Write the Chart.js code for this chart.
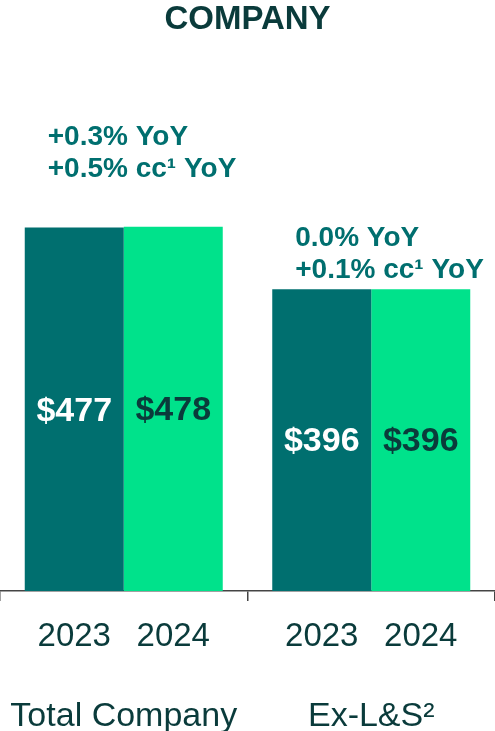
<!DOCTYPE html>
<html>
<head>
<meta charset="utf-8">
<script src="https://cdn.jsdelivr.net/npm/chart.js@4.4.1/dist/chart.umd.min.js"></script>
<style>
    html, body { margin: 0; padding: 0; background: #ffffff; }
    #wrap { width: 495px; height: 731px; position: relative; }
</style>
</head>
<body>
<div id="wrap"><canvas id="chart"></canvas></div>
<script>
const categories = ['Total Company', 'Ex-L&S\u00B2'];
const years = ['2023', '2024'];
const values2023 = [477, 396];
const values2024 = [478, 396];
const yoyNotes = [
    ['+0.3% YoY', '+0.5% cc\u00B9 YoY'],
    ['0.0% YoY', '+0.1% cc\u00B9 YoY']
];

const DARK = '#0a3b3b';
const TEAL = '#006f6f';
const GREEN = '#00e28b';
const FONT = '"Liberation Sans", Arial, sans-serif';

// how far above the bar top the second note line sits, per group
const noteGap = [57, 19];

const barText = {
    id: 'barText',
    afterDatasetsDraw(chart) {
        const ctx = chart.ctx;
        const area = chart.chartArea;
        const xScale = chart.scales.x;
        ctx.save();
        ctx.textAlign = 'center';
        ctx.textBaseline = 'middle';
        chart.data.datasets.forEach((ds, di) => {
            const meta = chart.getDatasetMeta(di);
            meta.data.forEach((bar, i) => {
                ctx.font = `bold 34px ${FONT}`;
                ctx.fillStyle = di === 0 ? '#ffffff' : DARK;
                ctx.fillText('$' + ds.data[i], bar.x, (bar.y + bar.base) / 2 + 2);

                ctx.font = `33px ${FONT}`;
                ctx.fillStyle = DARK;
                ctx.fillText(years[di], bar.x, area.bottom + 46);
            });
        });

        // category names under the years
        ctx.font = `34px ${FONT}`;
        ctx.fillStyle = DARK;
        categories.forEach((c, i) => {
            ctx.fillText(c, xScale.getPixelForValue(i), area.bottom + 126);
        });

        const m0 = chart.getDatasetMeta(0);
        const m1 = chart.getDatasetMeta(1);
        ctx.textAlign = 'left';
        ctx.font = `bold 28px ${FONT}`;
        ctx.fillStyle = TEAL;
        yoyNotes.forEach((lines, i) => {
            const bar = m0.data[i];
            const top = Math.min(bar.y, m1.data[i].y);
            const left = bar.x - bar.width / 2 + 23;
            const y2 = top - noteGap[i];
            ctx.fillText(lines[0], left, y2 - 32);
            ctx.fillText(lines[1], left, y2);
        });
        ctx.restore();
    }
};

new Chart(document.getElementById('chart'), {
    type: 'bar',
    data: {
        labels: categories,
        datasets: [
            { label: years[0], data: values2023, backgroundColor: TEAL },
            { label: years[1], data: values2024, backgroundColor: GREEN }
        ]
    },
    options: {
        responsive: true,
        maintainAspectRatio: false,
        animation: false,
        layout: { padding: { top: 0, bottom: 130, left: 0, right: 0 } },
        datasets: {
            bar: { categoryPercentage: 0.8, barPercentage: 1.0 }
        },
        scales: {
            x: {
                grid: {
                    display: true,
                    drawOnChartArea: false,
                    drawTicks: true,
                    tickLength: 10,
                    color: '#444444',
                    lineWidth: 1.5
                },
                border: { display: true, color: '#444444', width: 1.5 },
                ticks: { display: false }
            },
            y: {
                display: false,
                min: 0,
                max: 650
            }
        },
        plugins: {
            legend: { display: false },
            tooltip: { enabled: false },
            title: {
                display: true,
                text: 'COMPANY',
                color: DARK,
                font: { family: FONT, size: 33, weight: 'bold' },
                padding: { top: 0, bottom: 56 }
            }
        }
    },
    plugins: [barText]
});
</script>
</body>
</html>
